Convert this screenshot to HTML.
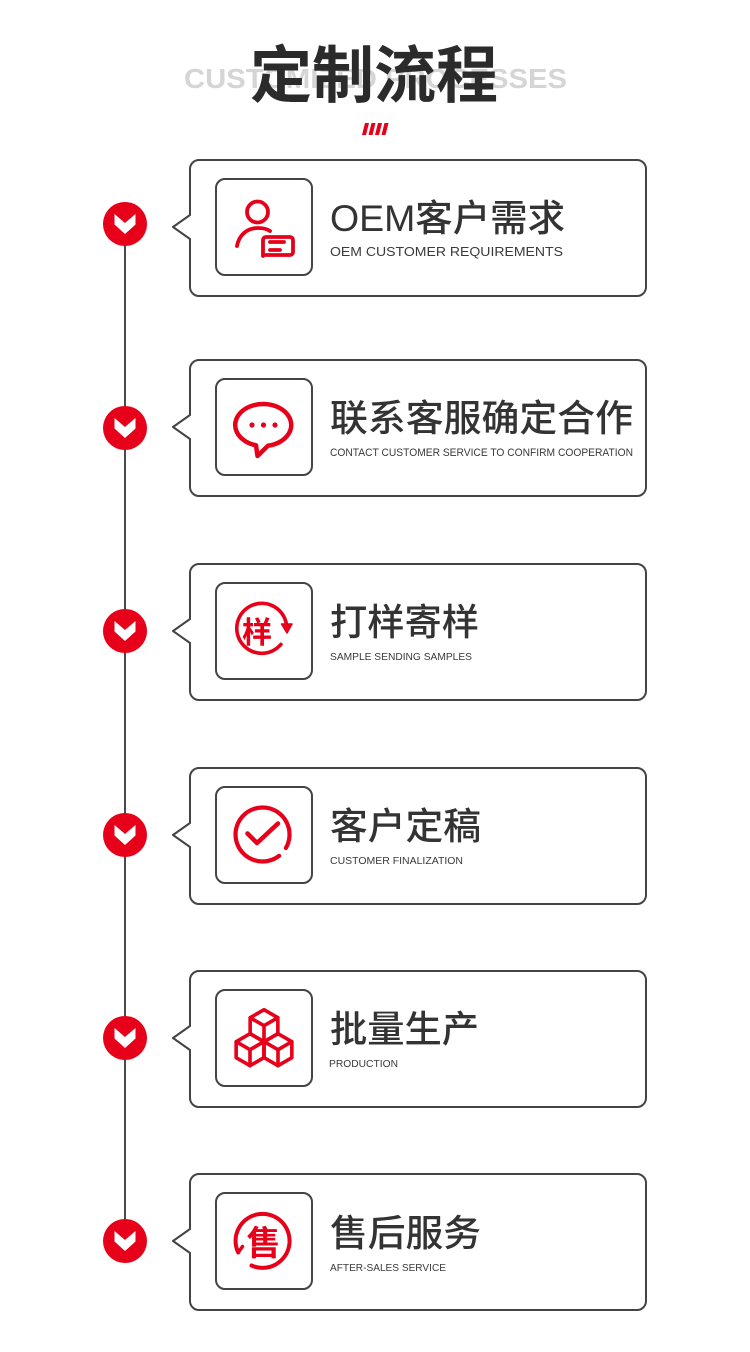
<!DOCTYPE html>
<html><head><meta charset="utf-8"><style>
html,body{margin:0;padding:0;background:#fff;}
svg{display:block;}
.t{font-family:"Liberation Sans","Noto Sans CJK SC",sans-serif;fill:#333;font-size:37px;font-weight:500;}
.s{font-family:"Liberation Sans",sans-serif;fill:#3a3a3a;font-size:11px;}
.r{fill:none;stroke:#e60019;stroke-width:4;stroke-linecap:round;stroke-linejoin:round;}
.card{fill:#fff;stroke:#444;stroke-width:2;stroke-linejoin:round;}
.ib{fill:#fff;stroke:#444;stroke-width:2;}
</style></head><body>
<svg width="750" height="1352" viewBox="0 0 750 1352" xmlns="http://www.w3.org/2000/svg">
<rect width="750" height="1352" fill="#fff"/>
<!-- header -->
<text x="184" y="88" font-family="Liberation Sans, sans-serif" font-weight="bold" font-size="28" fill="#d5d5d5" textLength="383" lengthAdjust="spacingAndGlyphs">CUSTOMIZED PROCESSES</text>
<text x="374" y="97" text-anchor="middle" font-family="Liberation Sans, Noto Sans CJK SC, sans-serif" font-weight="bold" font-size="62" fill="#2b2b2b">定制流程</text>
<g fill="#e60019">
<polygon points="365,123 369,123 366,135 362,135"/>
<polygon points="371.5,123 375.5,123 372.5,135 368.5,135"/>
<polygon points="378,123 382,123 379,135 375,135"/>
<polygon points="384.5,123 388.5,123 385.5,135 381.5,135"/>
</g>
<!-- timeline -->
<line x1="125" y1="224" x2="125" y2="1241" stroke="#4a4a4a" stroke-width="2"/>

<!-- cards -->
<path class="card" d="M199,160 H637 A9,9 0 0 1 646,169 V287 A9,9 0 0 1 637,296 H199 A9,9 0 0 1 190,287 V239 L173,227 L190,215 V169 A9,9 0 0 1 199,160 Z"/>
<path class="card" d="M199,360 H637 A9,9 0 0 1 646,369 V487 A9,9 0 0 1 637,496 H199 A9,9 0 0 1 190,487 V439 L173,427 L190,415 V369 A9,9 0 0 1 199,360 Z"/>
<path class="card" d="M199,564 H637 A9,9 0 0 1 646,573 V691 A9,9 0 0 1 637,700 H199 A9,9 0 0 1 190,691 V643 L173,631 L190,619 V573 A9,9 0 0 1 199,564 Z"/>
<path class="card" d="M199,768 H637 A9,9 0 0 1 646,777 V895 A9,9 0 0 1 637,904 H199 A9,9 0 0 1 190,895 V847 L173,835 L190,823 V777 A9,9 0 0 1 199,768 Z"/>
<path class="card" d="M199,971 H637 A9,9 0 0 1 646,980 V1098 A9,9 0 0 1 637,1107 H199 A9,9 0 0 1 190,1098 V1050 L173,1038 L190,1026 V980 A9,9 0 0 1 199,971 Z"/>
<path class="card" d="M199,1174 H637 A9,9 0 0 1 646,1183 V1301 A9,9 0 0 1 637,1310 H199 A9,9 0 0 1 190,1301 V1253 L173,1241 L190,1229 V1183 A9,9 0 0 1 199,1174 Z"/>

<!-- circles -->
<g>
<circle cx="125" cy="224" r="22" fill="#e60019"/>
<polygon points="114.5,214 125,223 135.5,214 135.5,224.5 125,234 114.5,224.5" fill="#fff"/>
<circle cx="125" cy="428" r="22" fill="#e60019"/>
<polygon points="114.5,418 125,427 135.5,418 135.5,428.5 125,438 114.5,428.5" fill="#fff"/>
<circle cx="125" cy="631" r="22" fill="#e60019"/>
<polygon points="114.5,621 125,630 135.5,621 135.5,631.5 125,641 114.5,631.5" fill="#fff"/>
<circle cx="125" cy="835" r="22" fill="#e60019"/>
<polygon points="114.5,825 125,834 135.5,825 135.5,835.5 125,845 114.5,835.5" fill="#fff"/>
<circle cx="125" cy="1038" r="22" fill="#e60019"/>
<polygon points="114.5,1028 125,1037 135.5,1028 135.5,1038.5 125,1048 114.5,1038.5" fill="#fff"/>
<circle cx="125" cy="1241" r="22" fill="#e60019"/>
<polygon points="114.5,1231 125,1240 135.5,1231 135.5,1241.5 125,1251 114.5,1241.5" fill="#fff"/>
</g>

<!-- icon boxes -->
<rect class="ib" x="216" y="179" width="96" height="96" rx="9"/>
<rect class="ib" x="216" y="379" width="96" height="96" rx="9"/>
<rect class="ib" x="216" y="583" width="96" height="96" rx="9"/>
<rect class="ib" x="216" y="787" width="96" height="96" rx="9"/>
<rect class="ib" x="216" y="990" width="96" height="96" rx="9"/>
<rect class="ib" x="216" y="1193" width="96" height="96" rx="9"/>

<!-- icon 1: person + card -->
<g class="r" style="stroke-width:3.8">
<circle cx="257.5" cy="212" r="10.5"/>
<path d="M237,246 C239,235 247,228 258,228 C263,228 267,229 270,231"/>
<path d="M263,256 V240 A3,3 0 0 1 266,237 H290 A3,3 0 0 1 293,240 V252 A3,3 0 0 1 290,255 H266"/>
<line x1="270" y1="242" x2="284" y2="242"/>
<line x1="270" y1="250" x2="280" y2="250"/>
</g>

<!-- icon 2: speech bubble -->
<path class="r" style="stroke-width:4.5" d="M268,445.7 A28,21 0 1,0 256,445.3 L257.5,456 Z"/>
<g fill="#e60019"><circle cx="252" cy="425" r="2.6"/><circle cx="263.5" cy="425" r="2.6"/><circle cx="275" cy="425" r="2.6"/></g>

<!-- icon 3: sample -->
<path class="r" style="stroke-width:3.6" d="M280.9,644.4 A25,25 0 1,1 286.3,623.5"/>
<polygon points="281.5,624 292,624 287,633" fill="#e60019" stroke="#e60019" stroke-width="1.5" stroke-linejoin="round"/>
<text x="257" y="643" text-anchor="middle" font-family="Liberation Sans, Noto Sans CJK SC, sans-serif" font-weight="bold" font-size="30" fill="#e60019">样</text>

<!-- icon 4: check -->
<path class="r" style="stroke-width:4.2" d="M279.1,855.8 A27,27 0 1,1 285.9,848"/>
<path class="r" style="stroke-width:4.5" d="M247.5,833.5 L257,843 L278,823.5"/>

<!-- icon 5: cubes -->
<g class="r" style="stroke-width:3.6">
<path d="M264,1009.7 L277.85,1017.7 L277.85,1033.7 L264,1041.7 L250.15,1033.7 L250.15,1017.7 Z M250.15,1017.7 L264,1025.7 L277.85,1017.7 M264,1025.7 L264,1041.7"/>
<path d="M250,1033.7 L263.85,1041.7 L263.85,1057.7 L250,1065.7 L236.15,1057.7 L236.15,1041.7 Z M236.15,1041.7 L250,1049.7 L263.85,1041.7 M250,1049.7 L250,1065.7"/>
<path d="M278,1033.7 L291.85,1041.7 L291.85,1057.7 L278,1065.7 L264.15,1057.7 L264.15,1041.7 Z M264.15,1041.7 L278,1049.7 L291.85,1041.7 M278,1049.7 L278,1065.7"/>
</g>

<!-- icon 6: after-sales -->
<path class="r" style="stroke-width:4" d="M251.5,1265.5 A27,27 0 1,0 238.2,1252.5"/>
<path class="r" style="stroke-width:3.5" d="M238.2,1252.5 L242.5,1246.5"/>
<text x="263.5" y="1255" text-anchor="middle" font-family="Liberation Sans, Noto Sans CJK SC, sans-serif" font-weight="bold" font-size="34" fill="#e60019">售</text>

<!-- titles -->
<text class="t" x="330" y="231" textLength="235" lengthAdjust="spacingAndGlyphs">OEM客户需求</text>
<text class="s" x="330" y="256" style="font-size:13px" textLength="233" lengthAdjust="spacingAndGlyphs">OEM CUSTOMER REQUIREMENTS</text>

<text class="t" x="330" y="431" textLength="303" lengthAdjust="spacingAndGlyphs">联系客服确定合作</text>
<text class="s" x="330" y="456" textLength="303" lengthAdjust="spacingAndGlyphs">CONTACT CUSTOMER SERVICE TO CONFIRM COOPERATION</text>

<text class="t" x="330" y="635" textLength="149" lengthAdjust="spacingAndGlyphs">打样寄样</text>
<text class="s" x="330" y="660" style="font-size:10px" textLength="142" lengthAdjust="spacingAndGlyphs">SAMPLE SENDING SAMPLES</text>

<text class="t" x="330" y="839" textLength="151" lengthAdjust="spacingAndGlyphs">客户定稿</text>
<text class="s" x="330" y="864" style="font-size:10px" textLength="133" lengthAdjust="spacingAndGlyphs">CUSTOMER FINALIZATION</text>

<text class="t" x="330" y="1042" textLength="149" lengthAdjust="spacingAndGlyphs">批量生产</text>
<text class="s" x="329" y="1067" style="font-size:10px" textLength="69" lengthAdjust="spacingAndGlyphs">PRODUCTION</text>

<text class="t" x="330" y="1246" textLength="151" lengthAdjust="spacingAndGlyphs">售后服务</text>
<text class="s" x="330" y="1271" style="font-size:10px" textLength="116" lengthAdjust="spacingAndGlyphs">AFTER-SALES SERVICE</text>
</svg>
</body></html>
